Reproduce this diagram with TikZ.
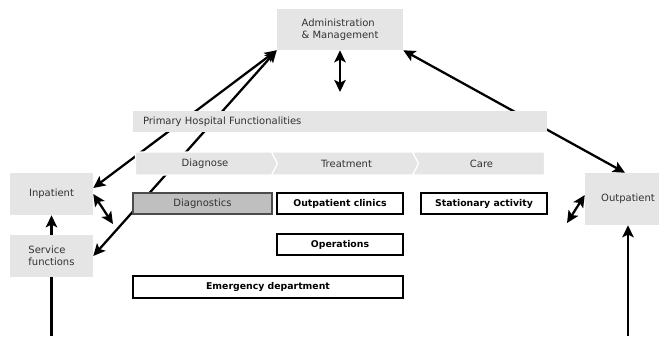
\documentclass[tikz,border=0pt]{standalone}
\usepackage{fontspec}
\setmainfont{DejaVu Sans}
\usetikzlibrary{arrows.meta, calc, shapes.symbols}
\pgfdeclarelayer{background}
\pgfsetlayers{background,main}
\newcommand{\pxu}{0.75pt}

\begin{document}
\begin{tikzpicture}[x=0.75pt, y=-0.75pt,
    pale/.style={fill=black!10, inner sep=0pt, text=black!80, font=\fontsize{7.5}{9}\selectfont},
    unit/.style={draw, line width=1.6pt, fill=white, inner sep=0pt, minimum height=21*\pxu, font=\fontsize{7}{8}\selectfont\bfseries},
    phase/.style={pale, signal, signal pointer angle=125, draw=white, line width=1pt, minimum height=23*\pxu},
    link/.style={line width=1.7pt, {Stealth[length=9pt,width=8.5pt,inset=2pt]}-{Stealth[length=9pt,width=8.5pt,inset=2pt]}},
    lead/.style={line width=1.7pt, -{Stealth[length=9pt,width=8.5pt,inset=2pt]}}]
    \useasboundingbox (0,0) rectangle (659,336);
    % management and the primary functions
    \node [pale, minimum width=126*\pxu, minimum height=41*\pxu, align=left] (adm) at (340,29.5) {Administration\\\& Management};
    \node [pale, minimum height=21*\pxu, text width=394*\pxu, inner xsep=10*\pxu, align=left] (prim) at (340,121.5) {Primary Hospital Functionalities};
    \node [phase, signal from=nowhere, signal to=east, minimum width=145*\pxu] (diagnose) at (205,163.5) {Diagnose};
    \node [phase, signal from=west, signal to=east, minimum width=150*\pxu] (treatment) at (346.5,163.5) {Treatment};
    \node [phase, signal from=west, signal to=nowhere, minimum width=132*\pxu] (care) at (481.5,163.5) {Care};
    % units
    \node [unit, fill=black!25, draw=black!70, line width=1.2pt, font=\fontsize{7.5}{9}\selectfont, text=black!80, minimum width=139*\pxu] (diagnostics) at (202.5,203.5) {Diagnostics};
    \node [unit, minimum width=126*\pxu] (clinics) at (340,203.5) {Outpatient clinics};
    \node [unit, minimum width=126*\pxu] (stationary) at (484,203.5) {Stationary activity};
    \node [unit, minimum width=126*\pxu] (operations) at (340,244.5) {Operations};
    \node [unit, minimum width=270*\pxu, minimum height=22*\pxu] (emergency) at (268,287) {Emergency department};
    % patients
    \node [pale, minimum width=83*\pxu, minimum height=42*\pxu] (inp) at (51.5,194) {Inpatient};
    \node [pale, minimum width=83*\pxu, minimum height=42*\pxu, align=left] (ser) at (51.5,256) {Service\\functions};
    \node [pale, minimum width=86*\pxu, minimum height=52*\pxu] (out) at (628,199) {Outpatient};
    \coordinate (admlow) at (340,92);
    \coordinate (inplow) at (113,224);
    \coordinate (outside) at (567,223);
    \coordinate (serlow) at (51.5,336);
    \coordinate (outlow) at (628,336);
    \begin{pgfonlayer}{background}
        \draw [link] (adm.south west) -- ($(inp.east)+(0,-6)$);
        \draw [link] (adm.south west) -- (ser.east);
        \draw [link] (adm.south east) -- ($(out.north)+(-3,0)$);
    \end{pgfonlayer}
    \draw [link] (adm.south) -- (admlow);
    \draw [link] (inp.east) -- (inplow);
    \draw [link] (outside) -- ($(out.west)+(0,-4)$);
    \draw [lead] (ser.north) -- (inp.south);
    \draw [line width=1.7pt] (serlow) -- (ser.south);
    \draw [lead] (outlow) -- (out.south);
\end{tikzpicture}
\end{document}
